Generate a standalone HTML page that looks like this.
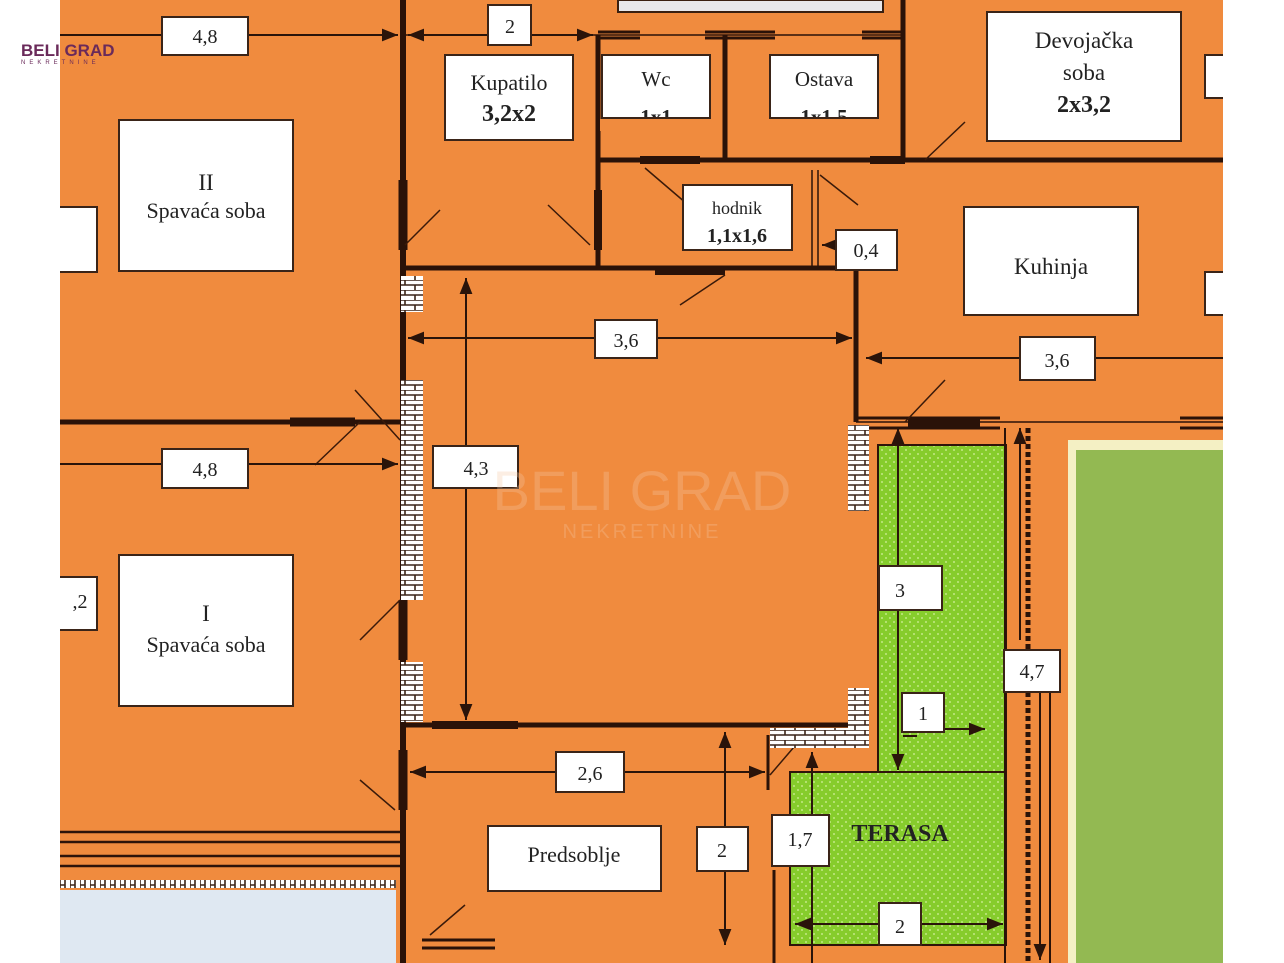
<!DOCTYPE html>
<html><head><meta charset="utf-8"><style>
html,body{margin:0;padding:0;background:#fff;}
body{width:1284px;height:963px;overflow:hidden;position:relative;}
svg{position:absolute;left:0;top:0;}
text{font-family:"Liberation Serif",serif;fill:#222;}
</style></head><body>
<svg width="1284" height="963" viewBox="0 0 1284 963" xmlns="http://www.w3.org/2000/svg">
<defs>
<marker id="a" viewBox="0 0 10 10" refX="10" refY="5" markerWidth="8" markerHeight="8" orient="auto-start-reverse"><path d="M0,1 L10,5 L0,9 z" fill="#2a140a"/></marker>
<pattern id="dots" width="8" height="8" patternUnits="userSpaceOnUse"><rect width="8" height="8" fill="#86cc2c"/><circle cx="2" cy="2" r="0.9" fill="#d6f0a0"/><circle cx="6" cy="6" r="0.9" fill="#d6f0a0"/></pattern>
<pattern id="brick" width="20" height="10" patternUnits="userSpaceOnUse"><rect width="20" height="10" fill="#fff"/><path d="M0,0H20M0,5H20M5,0V5M15,5V10" stroke="#3a2418" stroke-width="1.6"/></pattern>
<pattern id="brickh" width="10" height="20" patternUnits="userSpaceOnUse"><rect width="10" height="20" fill="#fff"/><path d="M0,0V20M5,0V20M0,5H5M5,15H10" stroke="#3a2418" stroke-width="1.6"/></pattern>
</defs>
<rect x="60" y="0" width="1163" height="963" fill="#f08b3e"/>
<rect x="618" y="0" width="265" height="12" fill="#e8e8ea" stroke="#3a2010" stroke-width="2"/>
<rect x="60" y="890" width="336" height="73" fill="#dfe8f2"/>
<rect x="60" y="880" width="336" height="8" fill="url(#brickh)"/>
<g stroke="#2e140a" fill="none">
<path d="M60,832H400M60,842H400M60,856H400M60,866H400" stroke-width="2.5"/>
</g>
<rect x="1068" y="440" width="155" height="523" fill="#f4f0c4"/>
<rect x="1076" y="450" width="147" height="513" fill="#93b952"/>
<path d="M878,445H1006V945H790V772H878Z" fill="url(#dots)" stroke="#2e140a" stroke-width="2"/>
<line x1="878" y1="772" x2="1006" y2="772" stroke="#2e140a" stroke-width="2"/>
<g stroke="#2a1208" fill="none" stroke-linecap="butt">
<path d="M403,0V963" stroke-width="6"/>
<path d="M60,422H402" stroke-width="5"/>
<path d="M402,268H856" stroke-width="5"/>
<path d="M598,35V268" stroke-width="5"/>
<path d="M725,35V160" stroke-width="5"/>
<path d="M598,160H903" stroke-width="5"/>
<path d="M903,0V160" stroke-width="5"/>
<path d="M903,160H1223" stroke-width="5"/>
<path d="M402,35H903" stroke-width="1.5"/>
<path d="M598,32H640M598,38H640M705,32H775M705,38H775M862,32H903M862,38H903" stroke-width="3"/>
<path d="M640,160H700M870,160H905" stroke-width="8"/>
<path d="M812,170V268M818,170V268" stroke-width="1.5"/>
<path d="M856,268V422" stroke-width="5"/>
<path d="M856,422H1223" stroke-width="1.5"/>
<path d="M856,418H1000M1180,418H1223M856,428H1000M1180,428H1223" stroke-width="3"/>
<path d="M908,423H980" stroke-width="8"/>
<path d="M405,725H858" stroke-width="5"/>
<path d="M432,725H518" stroke-width="8"/>
<path d="M655,271H725" stroke-width="8"/>
<path d="M290,422H355" stroke-width="9"/>
<path d="M403,180V250M403,600V660M403,750V810" stroke-width="9"/>
<path d="M598,190V250" stroke-width="8"/>
<path d="M1005,428V963" stroke-width="2"/>
<path d="M1028,428V963" stroke-width="5" stroke-dasharray="5,3"/>
<path d="M768,735V790M774,870V963" stroke-width="3"/>
<path d="M422,940H495M422,948H495" stroke-width="3"/>
<path d="M1050,690V963" stroke-width="2"/>
</g>
<g stroke="#3a1a0a" stroke-width="1.5">
<path d="M405,245L440,210M590,245L548,205M645,168L700,215M820,175L858,205M925,160L965,122M355,390L400,440M315,465L360,422M680,305L725,275M905,422L945,380M360,640L400,600M360,780L395,810M430,935L465,905M770,775L800,740"/>
</g>
<rect x="401" y="276" width="22" height="36" fill="url(#brick)"/>
<rect x="401" y="380" width="22" height="220" fill="url(#brick)"/>
<rect x="401" y="662" width="22" height="60" fill="url(#brick)"/>
<rect x="848" y="425" width="21" height="86" fill="url(#brick)"/>
<rect x="848" y="688" width="21" height="60" fill="url(#brick)"/>
<rect x="770" y="728" width="98" height="20" fill="url(#brick)"/>
<g stroke="#2a140a" stroke-width="2" fill="none">
<line x1="60" y1="35" x2="398" y2="35" marker-end="url(#a)"/>
<line x1="408" y1="35" x2="593" y2="35" marker-start="url(#a)" marker-end="url(#a)"/>
<line x1="408" y1="338" x2="852" y2="338" marker-start="url(#a)" marker-end="url(#a)"/>
<line x1="866" y1="358" x2="1223" y2="358" marker-start="url(#a)"/>
<line x1="60" y1="464" x2="398" y2="464" marker-end="url(#a)"/>
<line x1="466" y1="278" x2="466" y2="720" marker-start="url(#a)" marker-end="url(#a)"/>
<line x1="410" y1="772" x2="765" y2="772" marker-start="url(#a)" marker-end="url(#a)"/>
<line x1="725" y1="732" x2="725" y2="945" marker-start="url(#a)" marker-end="url(#a)"/>
<line x1="898" y1="428" x2="898" y2="770" marker-start="url(#a)" marker-end="url(#a)"/>
<line x1="944" y1="729" x2="985" y2="729" marker-end="url(#a)"/>
<line x1="917" y1="736" x2="903" y2="736"/>
<line x1="812" y1="752" x2="812" y2="963" marker-start="url(#a)"/>
<line x1="795" y1="924" x2="1003" y2="924" marker-start="url(#a)" marker-end="url(#a)"/>
<line x1="1020" y1="428" x2="1020" y2="640" marker-start="url(#a)"/>
<line x1="1040" y1="690" x2="1040" y2="960" marker-end="url(#a)"/>
<line x1="836" y1="245" x2="822" y2="245" marker-end="url(#a)"/>
</g>
<g fill="#fff" stroke="#3a2418" stroke-width="2">
<rect x="162" y="17" width="86" height="38"/>
<rect x="488" y="5" width="43" height="40"/>
<rect x="445" y="55" width="128" height="85"/>
<rect x="602" y="55" width="108" height="63"/>
<rect x="770" y="55" width="108" height="63"/>
<rect x="987" y="12" width="194" height="129"/>
<rect x="1205" y="55" width="25" height="43"/>
<rect x="119" y="120" width="174" height="151"/>
<rect x="50" y="207" width="47" height="65"/>
<rect x="683" y="185" width="109" height="65"/>
<rect x="836" y="230" width="61" height="40"/>
<rect x="964" y="207" width="174" height="108"/>
<rect x="1205" y="272" width="25" height="43"/>
<rect x="595" y="320" width="62" height="38"/>
<rect x="1020" y="337" width="75" height="43"/>
<rect x="162" y="449" width="86" height="39"/>
<rect x="433" y="446" width="85" height="42"/>
<rect x="879" y="566" width="63" height="44"/>
<rect x="1004" y="650" width="56" height="42"/>
<rect x="902" y="693" width="42" height="39"/>
<rect x="119" y="555" width="174" height="151"/>
<rect x="50" y="577" width="47" height="53"/>
<rect x="556" y="752" width="68" height="40"/>
<rect x="488" y="826" width="173" height="65"/>
<rect x="697" y="827" width="51" height="44"/>
<rect x="772" y="815" width="57" height="51"/>
<rect x="879" y="903" width="42" height="42"/>
</g>
<rect x="1223" y="0" width="61" height="963" fill="#fff"/>
<rect x="0" y="0" width="60" height="963" fill="#fff"/>
<g text-anchor="middle" font-size="20">
<text x="205" y="43">4,8</text>
<text x="510" y="33">2</text>
<text x="509" y="90" font-size="22">Kupatilo</text>
<text x="509" y="121" font-size="24" font-weight="bold">3,2x2</text>
<text x="656" y="86" font-size="21">Wc</text>
<text x="656" y="124" font-size="21" font-weight="bold">1x1</text>
<text x="824" y="86" font-size="21">Ostava</text>
<text x="824" y="124" font-size="21" font-weight="bold">1x1,5</text>
<text x="1084" y="48" font-size="23">Devojačka</text>
<text x="1084" y="80" font-size="23">soba</text>
<text x="1084" y="112" font-size="24" font-weight="bold">2x3,2</text>
<text x="206" y="190" font-size="23">II</text>
<text x="206" y="218" font-size="22">Spavaća soba</text>
<text x="737" y="214" font-size="18">hodnik</text>
<text x="737" y="242" font-size="20" font-weight="bold">1,1x1,6</text>
<text x="866" y="257">0,4</text>
<text x="1051" y="274" font-size="23">Kuhinja</text>
<text x="626" y="347">3,6</text>
<text x="1057" y="367">3,6</text>
<text x="205" y="476">4,8</text>
<text x="476" y="475">4,3</text>
<text x="900" y="597">3</text>
<text x="1032" y="678">4,7</text>
<text x="923" y="720">1</text>
<text x="206" y="621" font-size="23">I</text>
<text x="206" y="652" font-size="22">Spavaća soba</text>
<text x="80" y="608">,2</text>
<text x="590" y="780">2,6</text>
<text x="574" y="862" font-size="22">Predsoblje</text>
<text x="722" y="857">2</text>
<text x="800" y="846">1,7</text>
<text x="900" y="933">2</text>
<text x="900" y="841" font-size="24" font-weight="bold" fill="#1c2a10">TERASA</text>
</g>
<rect x="600" y="119" width="112" height="12" fill="#f08b3e"/>
<rect x="768" y="119" width="112" height="12" fill="#f08b3e"/>
<path d="M602,118H710M770,118H878" stroke="#3a2418" stroke-width="2"/>
<g text-anchor="middle" opacity="0.3">
<text x="642" y="510" font-size="56" style="font-family:'Liberation Sans',sans-serif;fill:#f6c9a4">BELI GRAD</text>
<text x="642" y="538" font-size="20" letter-spacing="3" style="font-family:'Liberation Sans',sans-serif;fill:#f6c9a4">NEKRETNINE</text>
</g>
<text x="21" y="56" font-size="17" font-weight="bold" style="font-family:'Liberation Sans',sans-serif;fill:#6a2a5a">BELI GRAD</text>
<text x="21" y="64" font-size="6" letter-spacing="4" style="font-family:'Liberation Sans',sans-serif;fill:#6a2a5a">NEKRETNINE</text>
</svg>
</body></html>
